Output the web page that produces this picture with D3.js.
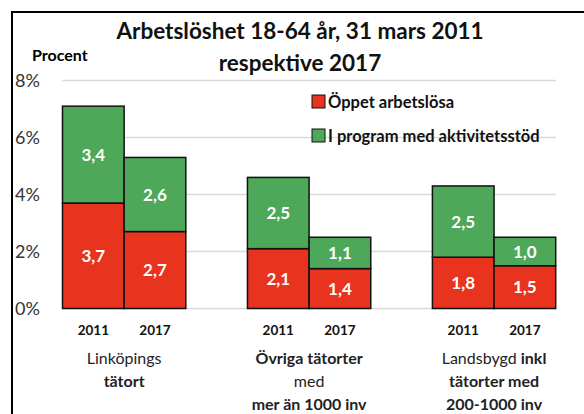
<!DOCTYPE html>
<html>
<head>
<meta charset="utf-8">
<script src="https://cdn.jsdelivr.net/npm/d3@7"></script>
<style>
  body { margin: 0; background: #fff; }
  text { font-family: Lato, "Open Sans", sans-serif; }
</style>
</head>
<body>
<div id="chart"></div>
<script>
var groups = ["linkoping", "ovriga", "landsbygd"];
var years = ["2011", "2017"];
// values per group, in year order
var oppet = [[3.7, 2.7], [2.1, 1.4], [1.8, 1.5]];
var program = [[3.4, 2.6], [2.5, 1.1], [2.5, 1.0]];
var yTicks = [0, 2, 4, 6, 8];
var seriesNames = ["Öppet arbetslösa", "I program med aktivitetsstöd"];
// category labels: lines of [text, bold]
var groupLabels = [
  [[["Linköpings", false]], [["tätort", true]]],
  [[["Övriga tätorter", true]], [["med", false]], [["mer än 1000 inv", true]]],
  [[["Landsbygd ", false], ["inkl", true]], [["tätorter med", true]], [["200-1000 inv", true]]]
];

var width = 584, height = 414;
var red = "#e8331f", green = "#4ea85a";

var svg = d3.select("#chart").append("svg")
  .attr("width", width)
  .attr("height", height);

// frame (only left and top visible)
svg.append("path")
  .attr("d", "M12,414V12H584")
  .style("fill", "none")
  .style("stroke", "#000")
  .style("stroke-width", 2);

var y = d3.scaleLinear().domain([0, 8]).range([308.5, 80.5]);
var x0 = d3.scaleBand().domain(groups).range([62.5, 555.7]).paddingInner(1 / 3).paddingOuter(0);
var x1 = d3.scaleBand().domain(years).range([0, x0.bandwidth()]);

// gridlines
svg.selectAll(".grid")
  .data(yTicks)
  .enter().append("line")
  .attr("x1", 62).attr("x2", 556)
  .attr("y1", function (d) { return y(d); })
  .attr("y2", function (d) { return y(d); })
  .style("stroke", "#d9d9d9")
  .style("stroke-width", 1.5);

svg.selectAll(".ytick")
  .data(yTicks)
  .enter().append("text")
  .attr("x", 15)
  .attr("y", function (d) { return y(d) + 6; })
  .style("font-size", "18px")
  .style("fill", "#333")
  .text(function (d) { return d + "%"; });

svg.append("text")
  .attr("x", 32).attr("y", 61)
  .style("font-size", "16px")
  .style("font-weight", "bold")
  .text("Procent");

// title
var title = svg.append("text")
  .attr("text-anchor", "middle")
  .style("font-size", "22.5px")
  .style("font-weight", "bold")
  .style("fill", "#111");
title.append("tspan").attr("x", 300).attr("y", 39).text("Arbetslöshet 18-64 år, 31 mars 2011");
title.append("tspan").attr("x", 300).attr("y", 71).text("respektive 2017");

// bars
var fmt = function (v) { return d3.format(".1f")(v).replace(".", ","); };
var g = svg.selectAll(".group")
  .data(groups)
  .enter().append("g")
  .attr("transform", function (d) { return "translate(" + x0(d) + ",0)"; });

g.each(function (grp, gi) {
  var sel = d3.select(this);
  years.forEach(function (yr, yi) {
    var a = oppet[gi][yi], b = program[gi][yi];
    var segs = [
      { lo: 0, hi: a, v: a, c: red },
      { lo: a, hi: a + b, v: b, c: green }
    ];
    segs.forEach(function (s) {
      sel.append("rect")
        .attr("x", x1(yr))
        .attr("y", y(s.hi))
        .attr("width", x1.bandwidth())
        .attr("height", y(s.lo) - y(s.hi))
        .style("fill", s.c)
        .style("stroke", "#111")
        .style("stroke-width", 1.5);
      sel.append("text")
        .attr("x", x1(yr) + x1.bandwidth() / 2)
        .attr("y", (y(s.lo) + y(s.hi)) / 2 + 6)
        .attr("text-anchor", "middle")
        .style("font-size", "17px")
        .style("font-weight", "bold")
        .style("fill", "#fff")
        .text(fmt(s.v));
    });
    sel.append("text")
      .attr("x", x1(yr) + x1.bandwidth() / 2)
      .attr("y", 335)
      .attr("text-anchor", "middle")
      .style("font-size", "13.5px")
      .style("font-weight", "bold")
      .style("fill", "#111")
      .text(yr);
  });

  // category label
  var lbl = sel.append("text")
    .attr("text-anchor", "middle")
    .style("font-size", "16px")
    .style("fill", "#222");
  groupLabels[gi].forEach(function (line, li) {
    line.forEach(function (part, pi) {
      var t = lbl.append("tspan")
        .style("font-weight", part[1] ? "bold" : "normal")
        .text(part[0]);
      if (pi === 0) t.attr("x", x0.bandwidth() / 2).attr("y", 364 + li * 23);
    });
  });
});

// legend
var legend = svg.selectAll(".legend")
  .data(seriesNames)
  .enter().append("g")
  .attr("transform", function (d, i) { return "translate(312," + (95 + i * 34) + ")"; });
legend.append("rect")
  .attr("width", 13).attr("height", 13)
  .style("fill", function (d, i) { return i === 0 ? red : green; })
  .style("stroke", "#111")
  .style("stroke-width", 1);
legend.append("text")
  .attr("x", 16).attr("y", 13)
  .style("font-size", "16.5px")
  .style("font-weight", "bold")
  .style("fill", "#111")
  .text(function (d) { return d; });
</script>
</body>
</html>
